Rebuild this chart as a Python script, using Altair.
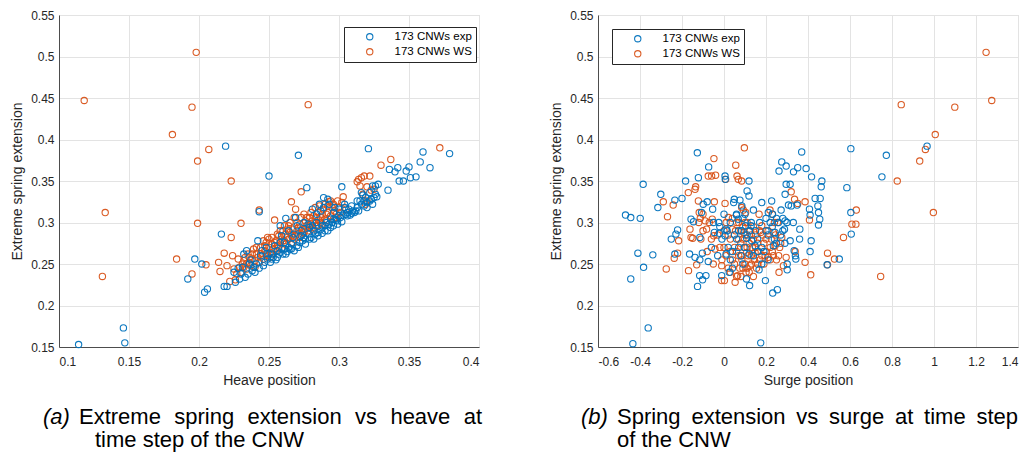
import altair as alt
import pandas as pd

# ---------------- data ----------------
series_names = ["173 CNWs exp", "173 CNWs WS"]
series_colors = ["#0072BD", "#D95319"]

heave_exp = [
    (0.114, 0.153), (0.147, 0.155), (0.146, 0.173), (0.192, 0.232), (0.197, 0.256),
    (0.202, 0.250), (0.204, 0.216), (0.206, 0.220), (0.216, 0.286), (0.219, 0.392),
    (0.218, 0.223), (0.220, 0.223), (0.225, 0.240), (0.228, 0.245), (0.230, 0.238),
    (0.232, 0.262), (0.233, 0.234), (0.234, 0.266), (0.236, 0.250), (0.238, 0.242),
    (0.240, 0.240), (0.242, 0.278), (0.243, 0.313), (0.244, 0.260), (0.246, 0.248),
    (0.247, 0.252), (0.249, 0.256), (0.250, 0.356), (0.251, 0.252), (0.252, 0.262),
    (0.253, 0.258), (0.255, 0.255), (0.256, 0.266), (0.257, 0.262), (0.258, 0.276),
    (0.258, 0.296), (0.260, 0.262), (0.261, 0.268), (0.262, 0.305), (0.263, 0.265),
    (0.264, 0.270), (0.265, 0.268), (0.266, 0.274), (0.267, 0.282), (0.268, 0.266),
    (0.269, 0.306), (0.270, 0.272), (0.271, 0.381), (0.272, 0.276), (0.273, 0.290),
    (0.274, 0.278), (0.275, 0.282), (0.276, 0.280), (0.277, 0.342), (0.278, 0.286),
    (0.279, 0.294), (0.280, 0.282), (0.281, 0.316), (0.282, 0.290), (0.283, 0.286),
    (0.284, 0.300), (0.285, 0.288), (0.286, 0.322), (0.287, 0.292), (0.288, 0.296),
    (0.289, 0.330), (0.290, 0.290), (0.291, 0.300), (0.292, 0.328), (0.293, 0.298),
    (0.294, 0.304), (0.295, 0.300), (0.296, 0.312), (0.297, 0.304), (0.298, 0.303),
    (0.299, 0.302), (0.300, 0.316), (0.301, 0.306), (0.302, 0.343), (0.303, 0.309),
    (0.304, 0.318), (0.305, 0.310), (0.306, 0.308), (0.308, 0.309), (0.309, 0.311),
    (0.310, 0.314), (0.312, 0.314), (0.313, 0.318), (0.315, 0.326), (0.316, 0.322),
    (0.317, 0.333), (0.318, 0.320), (0.319, 0.330), (0.320, 0.324), (0.321, 0.389),
    (0.322, 0.336), (0.323, 0.328), (0.324, 0.344), (0.325, 0.330), (0.326, 0.344),
    (0.327, 0.331), (0.328, 0.346), (0.335, 0.339), (0.336, 0.364), (0.340, 0.361),
    (0.342, 0.366), (0.343, 0.350), (0.346, 0.350), (0.348, 0.362), (0.350, 0.367),
    (0.351, 0.354), (0.355, 0.355), (0.358, 0.373), (0.360, 0.385), (0.365, 0.366),
    (0.379, 0.383),
    (0.226, 0.228), (0.229, 0.232), (0.231, 0.246), (0.235, 0.238), (0.237, 0.255),
    (0.239, 0.246), (0.241, 0.250), (0.243, 0.245), (0.245, 0.266), (0.248, 0.270),
    (0.250, 0.262), (0.252, 0.256), (0.254, 0.272), (0.256, 0.258), (0.258, 0.264),
    (0.259, 0.284), (0.261, 0.276), (0.262, 0.262), (0.264, 0.290), (0.266, 0.268),
    (0.268, 0.286), (0.270, 0.296), (0.271, 0.270), (0.273, 0.284), (0.275, 0.300),
    (0.276, 0.274), (0.278, 0.298), (0.279, 0.280), (0.281, 0.296), (0.282, 0.280),
    (0.284, 0.310), (0.285, 0.284), (0.287, 0.314), (0.288, 0.287), (0.289, 0.318),
    (0.290, 0.296), (0.292, 0.290), (0.293, 0.322), (0.294, 0.294), (0.296, 0.296),
    (0.297, 0.318), (0.299, 0.298), (0.300, 0.308), (0.302, 0.301), (0.304, 0.322),
    (0.306, 0.312), (0.307, 0.316), (0.309, 0.320), (0.311, 0.312), (0.313, 0.326),
    (0.314, 0.314), (0.316, 0.336), (0.318, 0.326), (0.320, 0.318), (0.322, 0.326),
    (0.324, 0.322), (0.326, 0.334),
]

heave_ws = [
    (0.118, 0.447), (0.131, 0.235), (0.133, 0.312), (0.181, 0.406), (0.184, 0.256),
    (0.195, 0.439), (0.195, 0.238), (0.198, 0.505), (0.199, 0.374), (0.199, 0.299),
    (0.205, 0.249), (0.207, 0.388), (0.214, 0.252), (0.215, 0.241), (0.218, 0.263),
    (0.220, 0.248), (0.222, 0.229), (0.223, 0.350), (0.223, 0.282), (0.224, 0.260),
    (0.225, 0.244), (0.226, 0.231), (0.228, 0.256), (0.230, 0.299), (0.230, 0.240),
    (0.231, 0.250), (0.232, 0.246), (0.233, 0.258), (0.234, 0.244), (0.235, 0.262),
    (0.236, 0.252), (0.237, 0.248), (0.238, 0.256), (0.239, 0.268), (0.240, 0.254),
    (0.241, 0.262), (0.242, 0.258), (0.243, 0.315), (0.244, 0.270), (0.245, 0.260),
    (0.246, 0.278), (0.247, 0.266), (0.248, 0.262), (0.249, 0.282), (0.250, 0.270),
    (0.251, 0.264), (0.252, 0.274), (0.253, 0.268), (0.254, 0.303), (0.255, 0.278),
    (0.256, 0.272), (0.257, 0.284), (0.258, 0.276), (0.259, 0.280), (0.260, 0.290),
    (0.261, 0.278), (0.262, 0.286), (0.263, 0.282), (0.264, 0.296), (0.265, 0.288),
    (0.266, 0.325), (0.266, 0.284), (0.267, 0.292), (0.268, 0.280), (0.269, 0.316),
    (0.270, 0.290), (0.271, 0.286), (0.272, 0.298), (0.273, 0.337), (0.274, 0.292),
    (0.275, 0.288), (0.276, 0.302), (0.277, 0.296), (0.278, 0.442), (0.278, 0.290),
    (0.279, 0.306), (0.280, 0.298), (0.281, 0.294), (0.282, 0.308), (0.283, 0.300),
    (0.284, 0.296), (0.285, 0.312), (0.286, 0.302), (0.287, 0.306), (0.288, 0.298),
    (0.289, 0.316), (0.290, 0.304), (0.291, 0.310), (0.292, 0.320), (0.293, 0.325),
    (0.294, 0.308), (0.295, 0.318), (0.296, 0.304), (0.297, 0.314), (0.298, 0.310),
    (0.300, 0.318), (0.302, 0.324), (0.303, 0.331), (0.305, 0.316), (0.313, 0.349),
    (0.314, 0.352), (0.315, 0.344), (0.316, 0.354), (0.317, 0.334), (0.318, 0.356),
    (0.319, 0.322), (0.320, 0.343), (0.320, 0.326), (0.322, 0.356), (0.323, 0.339),
    (0.325, 0.340), (0.330, 0.369), (0.337, 0.376), (0.372, 0.390),
    (0.227, 0.238), (0.229, 0.246), (0.232, 0.254), (0.234, 0.250), (0.236, 0.258),
    (0.238, 0.262), (0.240, 0.246), (0.241, 0.270), (0.243, 0.252), (0.244, 0.262),
    (0.246, 0.256), (0.247, 0.272), (0.248, 0.276), (0.249, 0.260), (0.250, 0.280),
    (0.251, 0.258), (0.252, 0.282), (0.253, 0.262), (0.254, 0.276), (0.255, 0.266),
    (0.256, 0.286), (0.257, 0.270), (0.258, 0.290), (0.259, 0.268), (0.260, 0.278),
    (0.261, 0.296), (0.262, 0.274), (0.263, 0.292), (0.264, 0.280), (0.265, 0.300),
    (0.267, 0.276), (0.268, 0.306), (0.269, 0.284), (0.270, 0.300), (0.271, 0.294),
    (0.272, 0.282), (0.273, 0.306), (0.274, 0.286), (0.275, 0.310), (0.276, 0.292),
    (0.277, 0.306), (0.279, 0.294), (0.280, 0.312), (0.281, 0.302), (0.282, 0.292),
    (0.283, 0.318), (0.284, 0.306), (0.285, 0.296), (0.286, 0.320), (0.287, 0.300),
    (0.288, 0.310), (0.290, 0.322), (0.291, 0.302), (0.292, 0.312), (0.294, 0.326),
    (0.296, 0.322), (0.298, 0.306), (0.299, 0.326), (0.301, 0.312),
]

surge_exp = [
    (-0.469, 0.309), (-0.444, 0.306), (-0.399, 0.305), (-0.385, 0.346), (-0.410, 0.263),
    (-0.339, 0.261), (-0.383, 0.246), (-0.444, 0.232), (-0.361, 0.173), (-0.434, 0.154),
    (-0.301, 0.334), (-0.315, 0.318), (-0.234, 0.327), (-0.200, 0.329), (-0.183, 0.350),
    (-0.251, 0.280), (-0.221, 0.291), (-0.229, 0.286), (-0.234, 0.262), (-0.164, 0.262),
    (-0.127, 0.384), (-0.122, 0.354), (-0.073, 0.367), (-0.157, 0.304), (-0.145, 0.301),
    (-0.115, 0.282), (-0.107, 0.312), (-0.099, 0.322), (-0.138, 0.258), (-0.103, 0.263),
    (-0.115, 0.255), (-0.116, 0.236), (-0.102, 0.231), (-0.086, 0.236), (-0.126, 0.223),
    (-0.075, 0.253), (-0.054, 0.316), (-0.046, 0.288), (-0.025, 0.300), (-0.022, 0.287),
    (0.005, 0.356), (0.006, 0.352), (0.010, 0.292), (0.005, 0.284), (-0.011, 0.236),
    (0.025, 0.240), (0.046, 0.324), (0.049, 0.328), (0.076, 0.327), (0.059, 0.309),
    (0.068, 0.304), (0.084, 0.290), (0.103, 0.296), (0.119, 0.350), (0.110, 0.338),
    (0.119, 0.332), (0.108, 0.281), (0.129, 0.296), (0.132, 0.278), (0.148, 0.272),
    (0.107, 0.232), (0.122, 0.224), (0.167, 0.243), (0.175, 0.155), (0.197, 0.230),
    (0.180, 0.324), (0.227, 0.326), (0.211, 0.312), (0.231, 0.310), (0.243, 0.288),
    (0.235, 0.272), (0.262, 0.362), (0.275, 0.373), (0.296, 0.368), (0.331, 0.361),
    (0.351, 0.366), (0.370, 0.385), (0.391, 0.365), (0.417, 0.355), (0.296, 0.346),
    (0.315, 0.346), (0.291, 0.334), (0.307, 0.321), (0.272, 0.315), (0.291, 0.302),
    (0.288, 0.292), (0.315, 0.278), (0.334, 0.266), (0.342, 0.256), (0.301, 0.250),
    (0.301, 0.243), (0.232, 0.215), (0.254, 0.219), (0.348, 0.321), (0.361, 0.292),
    (0.407, 0.316), (0.410, 0.309), (0.415, 0.278), (0.410, 0.265), (0.434, 0.329),
    (0.447, 0.320), (0.466, 0.350), (0.463, 0.343), (0.458, 0.329), (0.450, 0.312),
    (0.456, 0.304), (0.450, 0.297), (0.491, 0.249), (0.549, 0.256), (0.585, 0.342),
    (0.604, 0.389), (0.604, 0.312), (0.606, 0.286), (0.752, 0.355), (0.773, 0.381),
    (0.967, 0.392),
    (0.020, 0.270), (0.040, 0.265), (0.060, 0.280), (0.080, 0.260), (0.100, 0.270),
    (0.120, 0.290), (0.140, 0.260), (0.160, 0.280), (0.180, 0.270), (0.200, 0.290),
    (0.220, 0.300), (0.240, 0.280), (0.260, 0.300), (0.280, 0.290), (0.300, 0.300),
    (0.060, 0.310), (0.000, 0.310), (-0.030, 0.260), (0.030, 0.255), (0.190, 0.265),
    (0.210, 0.255), (0.250, 0.275), (-0.080, 0.325), (0.100, 0.310), (0.130, 0.300),
    (0.280, 0.305), (0.320, 0.320), (0.340, 0.260), (-0.010, 0.280), (0.070, 0.290),
    (0.010, 0.262), (0.030, 0.300), (0.050, 0.285), (0.070, 0.270), (0.090, 0.305),
    (0.110, 0.285), (0.120, 0.262), (0.150, 0.290), (0.170, 0.300), (0.180, 0.250),
    (0.210, 0.285), (0.230, 0.295), (0.250, 0.305), (0.270, 0.285), (0.290, 0.275),
    (-0.050, 0.300), (-0.020, 0.295), (0.040, 0.245), (0.090, 0.250), (0.160, 0.265),
    (0.200, 0.305), (-0.060, 0.270), (0.015, 0.290), (0.085, 0.320), (0.140, 0.315),
    (0.330, 0.300), (0.360, 0.280),
]

surge_ws = [
    (-0.289, 0.325), (-0.269, 0.307), (-0.275, 0.244), (-0.242, 0.321), (-0.237, 0.257),
    (-0.221, 0.263), (-0.216, 0.278), (-0.170, 0.336), (-0.169, 0.242), (-0.162, 0.292),
    (-0.157, 0.282), (-0.149, 0.281), (-0.138, 0.340), (-0.135, 0.343), (-0.130, 0.249),
    (-0.122, 0.326), (-0.118, 0.312), (-0.113, 0.305), (-0.110, 0.280), (-0.090, 0.302),
    (-0.083, 0.292), (-0.075, 0.356), (-0.048, 0.377), (-0.059, 0.356), (-0.040, 0.357),
    (-0.046, 0.325), (-0.056, 0.304), (-0.049, 0.284), (-0.043, 0.268), (-0.051, 0.250),
    (-0.011, 0.230), (0.002, 0.230), (0.005, 0.323), (0.008, 0.352), (-0.011, 0.248),
    (0.021, 0.306), (0.040, 0.292), (0.056, 0.369), (0.062, 0.356), (0.068, 0.352),
    (0.084, 0.350), (0.097, 0.390), (0.084, 0.318), (0.092, 0.315), (0.103, 0.312),
    (0.053, 0.228), (0.065, 0.236), (0.084, 0.260), (0.068, 0.280), (0.094, 0.288),
    (0.108, 0.264), (0.124, 0.248), (0.148, 0.264), (0.167, 0.310), (0.180, 0.296),
    (0.175, 0.288), (0.196, 0.260), (0.211, 0.258), (0.219, 0.315), (0.235, 0.288),
    (0.235, 0.260), (0.243, 0.272), (0.262, 0.240), (0.275, 0.282), (0.283, 0.248),
    (0.296, 0.258), (0.320, 0.337), (0.336, 0.328), (0.351, 0.323), (0.339, 0.265),
    (0.386, 0.325), (0.386, 0.252), (0.407, 0.303), (0.413, 0.237), (0.493, 0.263),
    (0.493, 0.249), (0.526, 0.256), (0.569, 0.282), (0.609, 0.298), (0.628, 0.298),
    (0.630, 0.315), (0.746, 0.235), (0.825, 0.350), (0.844, 0.442), (0.932, 0.374),
    (0.959, 0.388), (0.997, 0.312), (1.006, 0.406), (1.099, 0.439), (1.248, 0.505),
    (1.275, 0.447),
    (0.050, 0.270), (0.070, 0.260), (0.090, 0.280), (0.100, 0.250), (0.110, 0.270),
    (0.120, 0.240), (0.130, 0.260), (0.140, 0.280), (0.150, 0.270), (0.160, 0.250),
    (0.170, 0.290), (0.180, 0.260), (0.200, 0.280), (0.220, 0.270), (0.240, 0.300),
    (0.260, 0.260), (0.030, 0.280), (0.010, 0.260), (0.000, 0.290), (-0.020, 0.270),
    (0.060, 0.300), (0.080, 0.290), (0.100, 0.300), (0.130, 0.285), (-0.100, 0.290),
    (-0.070, 0.300), (0.020, 0.245), (0.040, 0.255), (0.080, 0.235), (0.110, 0.245),
    (0.140, 0.235), (0.190, 0.275), (0.230, 0.310), (0.270, 0.275),
    (0.000, 0.270), (0.010, 0.300), (0.020, 0.285), (0.030, 0.265), (0.040, 0.305),
    (0.050, 0.250), (0.055, 0.290), (0.060, 0.265), (0.070, 0.300), (0.075, 0.245),
    (0.080, 0.275), (0.085, 0.255), (0.090, 0.295), (0.095, 0.270), (0.100, 0.285),
    (0.105, 0.240), (0.110, 0.300), (0.115, 0.260), (0.120, 0.275), (0.125, 0.290),
    (0.130, 0.250), (0.135, 0.270), (0.140, 0.295), (0.145, 0.255), (0.150, 0.285),
    (0.155, 0.245), (0.160, 0.275), (0.165, 0.265), (0.170, 0.255), (0.185, 0.285),
    (0.190, 0.250), (0.200, 0.265), (0.210, 0.290), (0.220, 0.255), (0.225, 0.280),
    (0.230, 0.265), (0.245, 0.285), (0.250, 0.255), (0.255, 0.300), (0.265, 0.270),
    (-0.010, 0.255), (-0.030, 0.285), (-0.060, 0.280), (-0.080, 0.265), (-0.100, 0.310),
    (-0.120, 0.300), (0.030, 0.240), (0.060, 0.235), (0.090, 0.245),
]

y_ticks = [0.15, 0.2, 0.25, 0.3, 0.35, 0.4, 0.45, 0.5, 0.55]
heave_ticks = [0.1, 0.15, 0.2, 0.25, 0.3, 0.35, 0.4]
surge_ticks = [-0.6, -0.4, -0.2, 0, 0.2, 0.4, 0.6, 0.8, 1, 1.2, 1.4]

caption_a = ["(a)", "Extreme spring extension vs heave at", "time step of the CNW"]
caption_b = ["(b)", "Spring extension vs surge at time step", "of the CNW"]

# ---------------- build tables ----------------
def table(exp_pts, ws_pts):
    rows = [{"x": x, "y": y, "series": series_names[0]} for x, y in exp_pts]
    rows += [{"x": x, "y": y, "series": series_names[1]} for x, y in ws_pts]
    return pd.DataFrame(rows)

heave_df = table(heave_exp, heave_ws)
surge_df = table(surge_exp, surge_ws)

FONT = "Liberation Sans"
TXT = "#262626"
W, H = 420, 332
CAP = 22

# Arial / Liberation Sans advance widths (per 1000 em), used to justify caption line 1
ADV = {"E": 667, "x": 500, "t": 278, "r": 333, "e": 556, "m": 833, "s": 500, "p": 556,
       "i": 222, "n": 556, "g": 556, "o": 556, "v": 500, "h": 556, "a": 556, "S": 667,
       "u": 556, "f": 278, "C": 722, "N": 722, "W": 944}


def word_w(word):
    return sum(ADV.get(c, 556) for c in word) * CAP / 1000.0


def cap_text(txt, x, y, italic=False):
    return alt.Chart(pd.DataFrame({"t": [txt]})).mark_text(
        font=FONT, fontSize=CAP, fontStyle="italic" if italic else "normal",
        fontWeight="normal", align="left", baseline="alphabetic", color="black",
    ).encode(text="t:N", x=alt.value(x), y=alt.value(y))


def justified(line, x0, x1, y):
    words = line.split(" ")
    widths = [word_w(w) for w in words]
    gap = (x1 - x0 - sum(widths)) / (len(words) - 1)
    layers, x = [], x0
    for w, wd in zip(words, widths):
        layers.append(cap_text(w, round(x, 1), y))
        x += wd + gap
    return layers


def panel(df, xtitle, xdomain, xticks, legend_x, legend_y, caption, cap_x, line1_end):
    color = alt.Color(
        "series:N",
        scale=alt.Scale(domain=series_names, range=series_colors),
        legend=alt.Legend(
            title=None, orient="none", legendX=legend_x, legendY=legend_y,
            fillColor="white", strokeColor=TXT, padding=4, symbolOffset=16,
            labelOffset=19, labelFont=FONT, labelFontSize=11.5, labelColor="black",
            symbolType="circle", symbolSize=40, symbolStrokeWidth=1.1,
            rowPadding=2, cornerRadius=0,
        ),
    )
    pts = alt.Chart(df).mark_point(filled=False, size=40, strokeWidth=1.1, opacity=0.95).encode(
        x=alt.X("x:Q", title=xtitle,
                scale=alt.Scale(domain=xdomain, nice=False, zero=False),
                axis=alt.Axis(values=xticks, format="~g",
                              labelExpr="replace(datum.label, '\u2212', '-')")),
        y=alt.Y("y:Q", title="Extreme spring extension",
                scale=alt.Scale(domain=[0.15, 0.55], nice=False, zero=False),
                axis=alt.Axis(values=y_ticks, format="~g")),
        color=color,
        order=alt.Order("series:N"),
    )
    layers = [pts, cap_text(caption[0], cap_x[0], H + 77, italic=True)]
    layers += justified(caption[1], cap_x[1], line1_end, H + 77)
    layers.append(cap_text(caption[2], cap_x[2], H + 100))
    return alt.layer(*layers).properties(width=W, height=H)


left = panel(heave_df, "Heave position", [0.1, 0.4], heave_ticks, 285, 12,
             caption_a, [-16, 20, 36], 423)
right = panel(surge_df, "Surge position", [-0.6, 1.4], surge_ticks, 14, 14,
              caption_b, [-17, 19, 19], 420)

chart = alt.hconcat(left, right, spacing=66).resolve_legend(color="independent").properties(
    padding={"left": 10, "top": 8, "right": 5, "bottom": 0},
    background="white",
).configure_axis(
    labelFont=FONT, labelFontSize=12, labelColor=TXT,
    titleFont=FONT, titleFontSize=14, titleColor=TXT, titleFontWeight="normal",
    domainColor="#4d4d4d", domainWidth=1,
    gridColor="#e3e3e3", gridWidth=1,
    ticks=False, tickSize=0,
).configure_axisX(
    labelPadding=9, titlePadding=6,
).configure_axisY(
    labelPadding=5, titlePadding=6,
).configure_view(
    stroke="#d6d6d6", strokeWidth=1,
)

chart.save("out.html", embed_options={"renderer": "svg", "actions": False})
